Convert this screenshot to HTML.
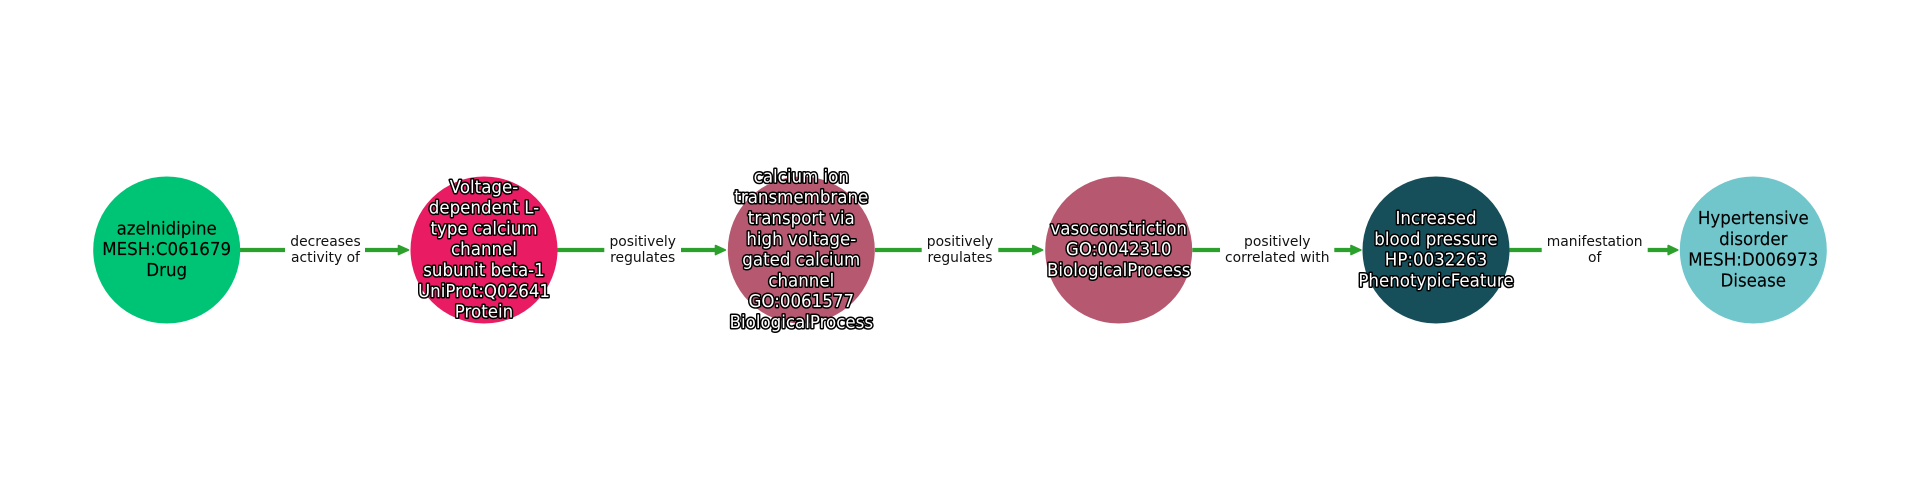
<!DOCTYPE html>
<html><head><meta charset="utf-8"><style>
html,body{margin:0;padding:0;background:#fff;width:1920px;height:500px;overflow:hidden}
svg{display:block}
text{font-family:"DejaVu Sans",sans-serif;text-anchor:middle;transform-box:fill-box;transform-origin:center}
.n{font-size:16.67px;fill:#000;stroke:#000;stroke-width:.12px;transform:scaleY(1.05)}
.o{font-size:16.67px;fill:#fff;stroke:#000;stroke-width:2.9px;paint-order:stroke;stroke-linejoin:round;transform:scaleY(1.05)}
.e{font-size:13.89px;fill:#111;transform:scaleY(1.03)}
.l{stroke:#2ca02c;stroke-width:4.2;fill:none}
.h{fill:#2ca02c;stroke:#2ca02c;stroke-width:1.6;stroke-linejoin:round}
</style></head><body>
<svg width="1920" height="500" viewBox="0 0 1920 500" xmlns="http://www.w3.org/2000/svg">
<g>
<path class="l" d="M240 250H285M365 250H400"/><polygon class="h" points="398.500,245.500 408.500,250 398.500,254.500"/>
<path class="l" d="M557.300 250H604.300M681 250H717"/><polygon class="h" points="715.500,245.500 725.300,250 715.500,254.500"/>
<path class="l" d="M875 250H921.700M998.300 250H1034"/><polygon class="h" points="1032.800,245.500 1042.600,250 1032.800,254.500"/>
<path class="l" d="M1192.300 250H1220M1334.300 250H1352"/><polygon class="h" points="1351,245.500 1360.800,250 1351,254.500"/>
<path class="l" d="M1509.300 250H1541.700M1647.700 250H1670"/><polygon class="h" points="1668.200,245.500 1677.700,250 1668.200,254.500"/>
</g>
<circle cx="166.700" cy="250" r="73.500" fill="#00c475"/>
<circle cx="484" cy="250" r="73.500" fill="#e91b62"/>
<circle cx="801.300" cy="250" r="73.500" fill="#b65970"/>
<circle cx="1118.700" cy="250" r="73.500" fill="#b65970"/>
<circle cx="1436" cy="250" r="73.500" fill="#164f5a"/>
<circle cx="1753.300" cy="250" r="73.500" fill="#71c6cc"/>

<text class="e" x="325.500" y="246">decreases</text><text class="e" x="325.500" y="262">activity of</text>
<text class="e" x="642.700" y="246">positively</text><text class="e" x="642.700" y="262">regulates</text>
<text class="e" x="960" y="246">positively</text><text class="e" x="960" y="262">regulates</text>
<text class="e" x="1277.300" y="246">positively</text><text class="e" x="1277.300" y="262">correlated with</text>
<text class="e" x="1594.700" y="246">manifestation</text><text class="e" x="1594.700" y="262">of</text>

<text class="n" x="166.700" y="234.200">azelnidipine</text>
<text class="n" x="166.700" y="255">MESH:C061679</text>
<text class="n" x="166.700" y="275.800">Drug</text>

<text class="o" x="484" y="192.600">Voltage-</text>
<text class="o" x="484" y="213.400">dependent L-</text>
<text class="o" x="484" y="234.200">type calcium</text>
<text class="o" x="484" y="255">channel</text>
<text class="o" x="484" y="275.800">subunit beta-1</text>
<text class="o" x="484" y="296.600">UniProt:Q02641</text>
<text class="o" x="484" y="317.400">Protein</text>

<text class="o" x="801.300" y="182.200">calcium ion</text>
<text class="o" x="801.300" y="203">transmembrane</text>
<text class="o" x="801.300" y="223.800">transport via</text>
<text class="o" x="801.300" y="244.600">high voltage-</text>
<text class="o" x="801.300" y="265.400">gated calcium</text>
<text class="o" x="801.300" y="286.200">channel</text>
<text class="o" x="801.300" y="307">GO:0061577</text>
<text class="o" x="801.300" y="327.800">BiologicalProcess</text>

<text class="o" x="1118.700" y="234.200">vasoconstriction</text>
<text class="o" x="1118.700" y="255">GO:0042310</text>
<text class="o" x="1118.700" y="275.800">BiologicalProcess</text>

<text class="o" x="1436" y="223.800">Increased</text>
<text class="o" x="1436" y="244.600">blood pressure</text>
<text class="o" x="1436" y="265.400">HP:0032263</text>
<text class="o" x="1436" y="286.200">PhenotypicFeature</text>

<text class="n" x="1753.300" y="223.800">Hypertensive</text>
<text class="n" x="1753.300" y="244.600">disorder</text>
<text class="n" x="1753.300" y="265.400">MESH:D006973</text>
<text class="n" x="1753.300" y="286.200">Disease</text>
</svg>
</body></html>
